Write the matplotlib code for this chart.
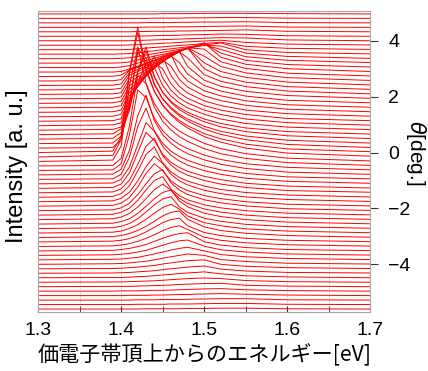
import numpy as np
import matplotlib
matplotlib.use("Agg")
import matplotlib.pyplot as plt
from matplotlib.ticker import MultipleLocator, FormatStrFormatter

plt.rcParams['font.family'] = ['Liberation Sans', 'DejaVu Sans']

# energy from the valence band top [eV] (sample points along each spectrum)
energy = [1.30, 1.39, 1.40, 1.41, 1.42, 1.43, 1.44, 1.45,
          1.46, 1.47, 1.48, 1.50, 1.52, 1.55, 1.60, 1.70]

# angle of each spectrum [deg], also its baseline offset
theta = [-5.60, -5.44, -5.28, -5.12, -4.96, -4.80, -4.64, -4.48, -4.32, -4.16,
         -4.00, -3.84, -3.68, -3.52, -3.36, -3.20, -3.04, -2.88, -2.72, -2.56,
         -2.40, -2.24, -2.08, -1.92, -1.76, -1.60, -1.44, -1.28, -1.12, -0.96,
         -0.80, -0.64, -0.48, -0.32, -0.16, 0.00, 0.16, 0.32, 0.48, 0.64,
         0.80, 0.96, 1.12, 1.28, 1.44, 1.60, 1.76, 1.92, 2.08, 2.24,
         2.40, 2.56, 2.72, 2.88, 3.04, 3.20, 3.36, 3.52, 3.68, 3.84,
         4.00, 4.16, 4.32, 4.48, 4.64, 4.80, 4.96]

# intensity [a.u.] of each spectrum at the energies above, one row per angle
intensity = [
    [0, 0, 0, 0, 0, 0.01, 0.01, 0.01, 0.01, 0.01, 0.02, 0.02, 0.03, 0.03, 0.01, 0],
    [0, 0, 0, 0, 0.01, 0.01, 0.01, 0.01, 0.02, 0.02, 0.02, 0.03, 0.04, 0.04, 0.01, 0],
    [0, 0, 0, 0, 0.01, 0.01, 0.01, 0.02, 0.02, 0.02, 0.03, 0.04, 0.05, 0.05, 0.01, 0],
    [0, 0, 0, 0.01, 0.01, 0.01, 0.02, 0.02, 0.03, 0.04, 0.04, 0.06, 0.07, 0.05, 0.02, 0],
    [0, 0, 0.01, 0.01, 0.01, 0.02, 0.03, 0.03, 0.04, 0.05, 0.06, 0.08, 0.09, 0.05, 0.02, 0],
    [0, 0.01, 0.01, 0.01, 0.02, 0.03, 0.04, 0.05, 0.06, 0.08, 0.09, 0.11, 0.12, 0.05, 0.02, 0],
    [0, 0.01, 0.01, 0.02, 0.03, 0.04, 0.05, 0.07, 0.09, 0.11, 0.13, 0.15, 0.13, 0.06, 0.02, 0],
    [0, 0.01, 0.01, 0.02, 0.04, 0.05, 0.07, 0.10, 0.12, 0.15, 0.17, 0.21, 0.14, 0.07, 0.03, 0],
    [0, 0.01, 0.02, 0.03, 0.05, 0.07, 0.09, 0.13, 0.16, 0.19, 0.22, 0.26, 0.15, 0.08, 0.03, 0.01],
    [0, 0.01, 0.02, 0.04, 0.06, 0.09, 0.12, 0.17, 0.21, 0.25, 0.29, 0.32, 0.16, 0.09, 0.04, 0.01],
    [0, 0.02, 0.03, 0.05, 0.08, 0.11, 0.16, 0.22, 0.27, 0.32, 0.37, 0.32, 0.17, 0.10, 0.04, 0.01],
    [0, 0.02, 0.03, 0.06, 0.09, 0.15, 0.21, 0.28, 0.35, 0.41, 0.45, 0.32, 0.19, 0.11, 0.05, 0.01],
    [0, 0.02, 0.04, 0.07, 0.12, 0.18, 0.27, 0.36, 0.45, 0.52, 0.55, 0.33, 0.20, 0.12, 0.05, 0.01],
    [0, 0.02, 0.05, 0.09, 0.15, 0.23, 0.34, 0.45, 0.55, 0.62, 0.65, 0.33, 0.21, 0.12, 0.05, 0.01],
    [0, 0.02, 0.05, 0.10, 0.18, 0.29, 0.42, 0.56, 0.68, 0.74, 0.61, 0.33, 0.22, 0.13, 0.06, 0.01],
    [0, 0.03, 0.06, 0.12, 0.22, 0.36, 0.52, 0.69, 0.80, 0.85, 0.58, 0.34, 0.23, 0.13, 0.06, 0.01],
    [0, 0.03, 0.07, 0.14, 0.25, 0.40, 0.58, 0.77, 0.90, 0.95, 0.65, 0.38, 0.25, 0.15, 0.07, 0.01],
    [0, 0.03, 0.07, 0.16, 0.30, 0.49, 0.71, 0.91, 1.03, 0.86, 0.61, 0.37, 0.26, 0.15, 0.07, 0.01],
    [0, 0.03, 0.08, 0.18, 0.35, 0.59, 0.85, 1.06, 1.14, 0.78, 0.58, 0.37, 0.26, 0.15, 0.07, 0.01],
    [0, 0.03, 0.09, 0.19, 0.38, 0.63, 0.91, 1.13, 1.22, 0.83, 0.62, 0.39, 0.27, 0.16, 0.07, 0.01],
    [0, 0.03, 0.09, 0.22, 0.45, 0.75, 1.07, 1.27, 1.06, 0.76, 0.58, 0.38, 0.27, 0.16, 0.07, 0.01],
    [0, 0.03, 0.10, 0.25, 0.53, 0.90, 1.24, 1.38, 0.94, 0.70, 0.55, 0.37, 0.26, 0.16, 0.07, 0.01],
    [0, 0.03, 0.10, 0.27, 0.57, 0.96, 1.32, 1.47, 1.00, 0.74, 0.58, 0.39, 0.28, 0.17, 0.07, 0.01],
    [0, 0.03, 0.11, 0.31, 0.69, 1.17, 1.52, 1.28, 0.91, 0.70, 0.56, 0.38, 0.27, 0.16, 0.07, 0.01],
    [0, 0.03, 0.12, 0.34, 0.74, 1.25, 1.63, 1.37, 0.98, 0.75, 0.60, 0.41, 0.29, 0.17, 0.08, 0.01],
    [0, 0.03, 0.13, 0.41, 0.94, 1.53, 1.80, 1.23, 0.91, 0.71, 0.58, 0.40, 0.28, 0.17, 0.08, 0.01],
    [0, 0.03, 0.14, 0.45, 1.01, 1.66, 1.95, 1.33, 0.99, 0.77, 0.63, 0.44, 0.31, 0.19, 0.08, 0.02],
    [0, 0.03, 0.15, 0.55, 1.28, 2.00, 1.71, 1.22, 0.93, 0.75, 0.61, 0.43, 0.31, 0.18, 0.08, 0.01],
    [0, 0.03, 0.16, 0.60, 1.40, 2.19, 1.88, 1.34, 1.02, 0.82, 0.67, 0.47, 0.34, 0.20, 0.09, 0.02],
    [0, 0.02, 0.18, 0.79, 1.89, 2.55, 1.74, 1.29, 1.01, 0.82, 0.68, 0.48, 0.34, 0.21, 0.09, 0.02],
    [0, 0.03, 0.20, 0.88, 2.11, 2.85, 1.94, 1.44, 1.13, 0.92, 0.76, 0.54, 0.38, 0.23, 0.10, 0.02],
    [0, 0.02, 0.24, 1.26, 2.88, 2.61, 1.86, 1.42, 1.14, 0.93, 0.78, 0.55, 0.39, 0.24, 0.11, 0.02],
    [0, 0.02, 0.27, 1.42, 3.24, 2.94, 2.10, 1.60, 1.29, 1.05, 0.88, 0.62, 0.44, 0.27, 0.12, 0.02],
    [0, 0.05, 0.55, 2.71, 4.10, 2.80, 2.07, 1.63, 1.32, 1.09, 0.92, 0.65, 0.46, 0.28, 0.12, 0.02],
    [0, 0.06, 0.62, 3.08, 4.65, 3.17, 2.35, 1.85, 1.50, 1.24, 1.04, 0.73, 0.53, 0.32, 0.14, 0.03],
    [0, 0.05, 0.57, 2.84, 4.30, 2.93, 2.18, 1.71, 1.38, 1.15, 0.96, 0.68, 0.49, 0.30, 0.13, 0.03],
    [0, 0.02, 0.30, 1.56, 3.56, 3.22, 2.30, 1.76, 1.41, 1.15, 0.97, 0.68, 0.49, 0.30, 0.13, 0.02],
    [0, 0.02, 0.27, 1.42, 3.24, 2.94, 2.10, 1.60, 1.29, 1.05, 0.88, 0.62, 0.44, 0.27, 0.12, 0.02],
    [0, 0.03, 0.23, 1.02, 2.44, 3.30, 2.25, 1.67, 1.31, 1.06, 0.88, 0.62, 0.44, 0.27, 0.12, 0.02],
    [0, 0.03, 0.21, 0.93, 2.22, 3.00, 2.05, 1.52, 1.19, 0.97, 0.80, 0.56, 0.40, 0.24, 0.11, 0.02],
    [0, 0.03, 0.11, 0.96, 1.68, 2.39, 2.24, 1.60, 1.22, 0.98, 0.80, 0.57, 0.40, 0.24, 0.11, 0.02],
    [0, 0.03, 0.10, 0.88, 1.42, 1.96, 2.50, 1.71, 1.27, 0.99, 0.81, 0.56, 0.40, 0.24, 0.11, 0.02],
    [0, 0.02, 0.09, 0.81, 1.23, 1.66, 2.09, 1.88, 1.34, 1.02, 0.82, 0.56, 0.40, 0.24, 0.10, 0.02],
    [0, 0.02, 0.09, 0.75, 1.10, 1.45, 1.80, 2.15, 1.47, 1.09, 0.85, 0.57, 0.40, 0.24, 0.11, 0.02],
    [0, 0.02, 0.08, 0.71, 1.00, 1.29, 1.58, 1.87, 1.65, 1.18, 0.90, 0.59, 0.42, 0.25, 0.11, 0.02],
    [0, 0.02, 0.08, 0.67, 0.91, 1.16, 1.41, 1.65, 1.90, 1.30, 0.96, 0.61, 0.43, 0.25, 0.11, 0.02],
    [0, 0.02, 0.07, 0.63, 0.84, 1.06, 1.27, 1.48, 1.69, 1.47, 1.05, 0.64, 0.44, 0.26, 0.11, 0.02],
    [0, 0.02, 0.07, 0.60, 0.78, 0.96, 1.15, 1.33, 1.52, 1.70, 1.16, 0.67, 0.45, 0.27, 0.12, 0.02],
    [0, 0.02, 0.06, 0.56, 0.72, 0.88, 1.04, 1.20, 1.36, 1.52, 1.31, 0.71, 0.47, 0.28, 0.12, 0.02],
    [0, 0.02, 0.06, 0.53, 0.66, 0.80, 0.94, 1.08, 1.22, 1.36, 1.50, 0.76, 0.48, 0.28, 0.12, 0.02],
    [0, 0.01, 0.06, 0.45, 0.57, 0.70, 0.83, 0.95, 1.08, 1.21, 1.34, 0.81, 0.50, 0.29, 0.12, 0.02],
    [0, 0.01, 0.05, 0.38, 0.49, 0.61, 0.72, 0.84, 0.95, 1.07, 1.18, 0.89, 0.52, 0.29, 0.12, 0.02],
    [0, 0.01, 0.05, 0.24, 0.35, 0.47, 0.58, 0.69, 0.81, 0.92, 1.03, 0.98, 0.53, 0.29, 0.12, 0.02],
    [0, 0, 0.02, 0.11, 0.21, 0.32, 0.42, 0.53, 0.63, 0.74, 0.84, 1.05, 0.53, 0.28, 0.12, 0.02],
    [0, 0, 0.02, 0.07, 0.16, 0.25, 0.33, 0.42, 0.51, 0.59, 0.68, 0.86, 0.52, 0.26, 0.11, 0.02],
    [0, 0, 0.01, 0.04, 0.11, 0.18, 0.25, 0.31, 0.38, 0.45, 0.52, 0.65, 0.49, 0.23, 0.10, 0.02],
    [0, 0, 0.01, 0.03, 0.08, 0.13, 0.18, 0.23, 0.28, 0.33, 0.38, 0.48, 0.45, 0.20, 0.08, 0.01],
    [0, 0, 0.01, 0.02, 0.05, 0.09, 0.12, 0.16, 0.19, 0.23, 0.26, 0.33, 0.40, 0.16, 0.06, 0.01],
    [0, 0, 0, 0.01, 0.03, 0.06, 0.08, 0.10, 0.13, 0.15, 0.17, 0.22, 0.27, 0.12, 0.05, 0.01],
    [0, 0, 0, 0.01, 0.02, 0.04, 0.05, 0.07, 0.08, 0.10, 0.12, 0.15, 0.18, 0.10, 0.04, 0.01],
    [0, 0, 0, 0, 0.01, 0.02, 0.03, 0.04, 0.05, 0.06, 0.07, 0.09, 0.11, 0.10, 0.03, 0],
    [0, 0, 0, 0, 0.01, 0.01, 0.02, 0.03, 0.03, 0.04, 0.05, 0.06, 0.08, 0.07, 0.02, 0],
    [0, 0, 0, 0, 0.01, 0.01, 0.02, 0.02, 0.02, 0.03, 0.03, 0.04, 0.05, 0.07, 0.02, 0],
    [0, 0, 0, 0, 0, 0.01, 0.01, 0.01, 0.02, 0.02, 0.02, 0.03, 0.04, 0.05, 0.01, 0],
    [0, 0, 0, 0, 0, 0.01, 0.01, 0.01, 0.01, 0.02, 0.02, 0.03, 0.03, 0.04, 0.01, 0],
    [0, 0, 0, 0, 0, 0, 0.01, 0.01, 0.01, 0.01, 0.02, 0.02, 0.03, 0.03, 0.01, 0],
    [0, 0, 0, 0, 0, 0, 0, 0.01, 0.01, 0.01, 0.01, 0.02, 0.02, 0.02, 0.01, 0],
]

fig = plt.figure(figsize=(4.28, 3.71), dpi=100)
ax = fig.add_axes([0.089, 0.158, 0.776, 0.812])

# waterfall: each spectrum drawn on top of its own angle
for th, row in zip(theta, intensity):
    ax.plot(energy, th + np.array(row), color='red', lw=0.7)

ax.set_xlim(1.3, 1.7)
ax.set_ylim(-5.72, 5.06)

for s in ax.spines.values():
    s.set_color('#a8a8a8')

ax.xaxis.set_major_locator(MultipleLocator(0.1))
ax.xaxis.set_minor_locator(MultipleLocator(0.05))
ax.xaxis.set_major_formatter(FormatStrFormatter('%.1f'))
ax.grid(True, which='both', axis='x', color='#bdbdbd', ls=':', lw=0.7)
ax.set_axisbelow(True)
ax.tick_params(axis='x', which='both', direction='in', length=4,
               color='#333333', labelsize=14, pad=7)

ax.yaxis.tick_right()
ax.set_yticks([-4, -2, 0, 2, 4])
ax.tick_params(axis='y', direction='out', length=6, color='#333333',
               labelsize=14, pad=7)

ax.set_xlabel('価電子帯頂上からのエネルギー[eV]', fontsize=15.2,
              family=['Noto Sans CJK JP', 'DejaVu Sans'], labelpad=3)
fig.text(0.040, 0.551, 'Intensity [a. u.]', rotation=90,
         ha='center', va='center', fontsize=17)
fig.text(0.972, 0.589, r'$\theta$[deg.]', rotation=270,
         ha='center', va='center', fontsize=15)

fig.savefig('out.png', dpi=100)
